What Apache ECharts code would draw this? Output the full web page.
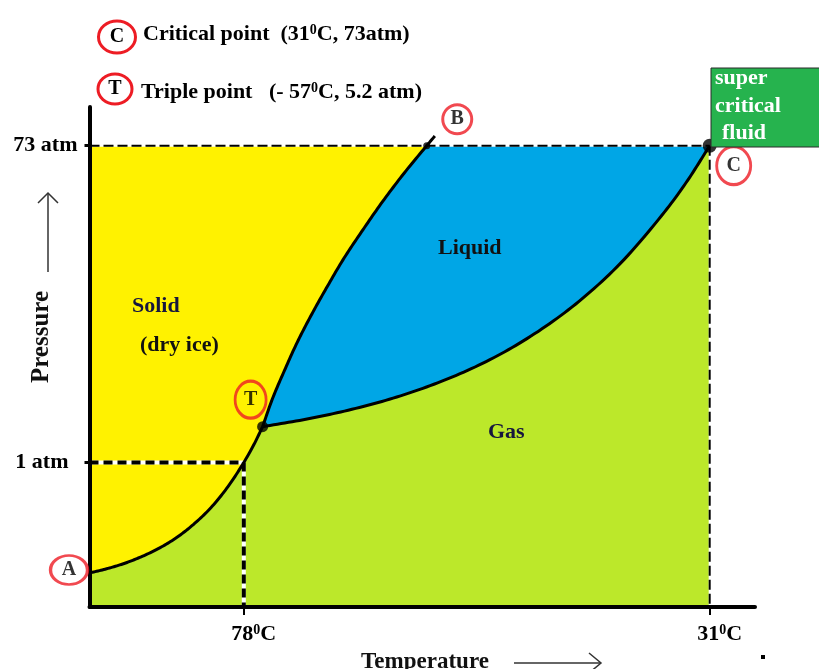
<!DOCTYPE html>
<html><head><meta charset="utf-8">
<script src="https://cdn.jsdelivr.net/npm/echarts@6/dist/echarts.min.js"></script>
<style>html,body{margin:0;padding:0;background:#fff}#c{width:819px;height:669px}</style>
</head><body><div id="c"></div>
<script>
// ---- data (schematic CO2 phase diagram; temperature in °C, pressure in atm on a log axis) ----
const xRange = [-114.1, 41.6];
const yRange = [0.1413, 123.3];
const tempTicks = [-78, 31];
const tempTickLabels = ['78', '31'];
const pressureTicks = [1, 73];
const pressureTickLabels = ['1 atm', '73 atm'];

const sublimationT = [-114.1, -110.1, -106.0, -102.0, -97.9, -93.8, -89.8, -85.7, -81.7, -78.0, -75.6, -73.6];
const sublimationP = [0.2239, 0.2370, 0.2547, 0.2789, 0.3124, 0.3607, 0.4318, 0.5422, 0.7215, 1.0, 1.2795, 1.625];

const meltingT = [-73.6, -71.3, -68.5, -65.5, -62.1, -58.4, -54.5, -50.1, -45.5, -40.5, -35.2];
const meltingP = [1.625, 2.37, 3.47, 5.09, 7.45, 10.92, 15.99, 23.43, 34.33, 50.29, 73];
const meltingTailT = [-33.3];
const meltingTailP = [83.2];

const vaporT = [-73.6, -63.2, -52.7, -42.2, -31.8, -21.3, -10.9, -0.4, 10.1, 20.5, 25.8, 31];
const vaporP = [1.625, 1.802, 2.055, 2.428, 2.999, 3.922, 5.524, 8.532, 14.83, 29.90, 45.50, 73];

const triplePoint = [-73.6, 1.625];
const criticalPoint = [31, 73];
const meltEndPoint = [-35.2, 73];
const sublimationStart = [-114.1, 0.2239];

const oneAtmT = -78;
const oneAtmP = 1;

// ---- styles ----
const FONT = '"Liberation Serif","Times New Roman",serif';
const regionColors = ['#BCE82A', '#FFF200', '#00A6E6'];
const RED = '#ED1C24';
const SEG = 12;

const zip = (a, b) => a.map((v, i) => [v, b[i]]);
const subl = zip(sublimationT, sublimationP);
const melt = zip(meltingT, meltingP);
const meltFull = melt.concat(zip(meltingTailT, meltingTailP));
const vap = zip(vaporT, vaporP);

// centripetal Catmull-Rom rendering of a pixel polyline (drawing only)
function crPoint(p0, p1, p2, p3, u) {
  const d = (a, b) => Math.max(Math.pow(Math.hypot(b[0] - a[0], b[1] - a[1]), 0.5), 1e-6);
  const t0 = 0, t1 = t0 + d(p0, p1), t2 = t1 + d(p1, p2), t3 = t2 + d(p2, p3);
  const t = t1 + (t2 - t1) * u;
  const lerp = (a, b, ta, tb) => [
    ((tb - t) * a[0] + (t - ta) * b[0]) / (tb - ta),
    ((tb - t) * a[1] + (t - ta) * b[1]) / (tb - ta)];
  const A1 = lerp(p0, p1, t0, t1), A2 = lerp(p1, p2, t1, t2), A3 = lerp(p2, p3, t2, t3);
  const B1 = lerp(A1, A2, t0, t2), B2 = lerp(A2, A3, t1, t3);
  return lerp(B1, B2, t1, t2);
}
function smoothPx(pts) {
  const out = [];
  const n = pts.length;
  for (let i = 0; i < n - 1; i++) {
    const p1 = pts[i], p2 = pts[i + 1];
    const p0 = i > 0 ? pts[i - 1] : [2 * p1[0] - p2[0], 2 * p1[1] - p2[1]];
    const p3 = i + 2 < n ? pts[i + 2] : [2 * p2[0] - p1[0], 2 * p2[1] - p1[1]];
    for (let j = 0; j < SEG; j++) out.push(j === 0 ? p1.slice() : crPoint(p0, p1, p2, p3, j / SEG));
  }
  out.push(pts[n - 1].slice());
  return out;
}
function curvesPx(api) {
  const c = p => api.coord(p);
  const S = smoothPx(subl.map(c));
  const Mfull = smoothPx(meltFull.map(c));
  const M = Mfull.slice(0, (melt.length - 1) * SEG + 1);
  const V = smoothPx(vap.map(c));
  return {S, Mfull, M, V, c};
}

const chart = echarts.init(document.getElementById('c'), null, {renderer: 'canvas'});

function dashed(data, width, dash) {
  return [
    {type: 'line', data: data, symbol: 'none', silent: true, z: 5, clip: false,
     lineStyle: {color: '#fff', width: width}},
    {type: 'line', data: data, symbol: 'none', silent: true, z: 6, clip: false,
     lineStyle: {color: '#000', width: width, type: dash}}
  ];
}

const supRich = {
  n: {fontFamily: FONT, fontWeight: 'bold', fontSize: 22, color: '#000'},
  s: {fontFamily: FONT, fontWeight: 'bold', fontSize: 14, color: '#000', verticalAlign: 'top'}
};

const option = {
  animation: false,
  backgroundColor: '#fff',
  grid: {left: 89.5, top: 107, right: 64, bottom: 62, containLabel: false, outerBoundsMode: 'none'},
  xAxis: {
    type: 'value', min: xRange[0], max: xRange[1], z: 10,
    axisLine: {show: true, onZero: false, lineStyle: {color: '#000', width: 4}},
    axisTick: {show: true, customValues: tempTicks, length: 8, lineStyle: {color: '#000', width: 2}},
    axisLabel: {
      show: true, customValues: tempTicks, margin: 16, padding: [0, 0, 0, 20],
      formatter: function (v) {
        const i = tempTicks.findIndex(t => Math.abs(t - v) < 0.5);
        return '{n|' + tempTickLabels[i] + '}{s|0}{n|C}';
      },
      rich: supRich
    },
    splitLine: {show: false}
  },
  yAxis: {
    type: 'log', min: yRange[0], max: yRange[1], z: 10,
    axisLine: {show: true, onZero: false, lineStyle: {color: '#000', width: 4}},
    axisTick: {show: true, customValues: pressureTicks, length: 5, lineStyle: {color: '#000', width: 3}},
    axisLabel: {
      show: true, customValues: pressureTicks, margin: 12,
      formatter: function (v) {
        const i = pressureTicks.findIndex(t => Math.abs(Math.log(t) - Math.log(v)) < 0.1);
        return i === 0 ? '{m|' + pressureTickLabels[i] + '}' : '{n|' + pressureTickLabels[i] + '}';
      },
      rich: {
        n: {fontFamily: FONT, fontWeight: 'bold', fontSize: 22, color: '#000'},
        m: {fontFamily: FONT, fontWeight: 'bold', fontSize: 22, color: '#000', padding: [0, 9, 0, 0]}
      }
    },
    splitLine: {show: false}
  },
  series: [
    { // phase regions
      type: 'custom', coordinateSystem: 'cartesian2d', silent: true, z: 1, clip: false,
      encode: {x: 0, y: 1},
      data: [[-100, 0.3, 0], [-100, 10, 1], [-50, 10, 2]],
      renderItem: function (params, api) {
        const id = api.value(2);
        const {S, M, V, c} = curvesPx(api);
        let pts;
        if (id === 0) {
          pts = [c([xRange[0], yRange[0]])].concat(S, V.slice(1), [c([criticalPoint[0], yRange[0]])]);
        } else if (id === 1) {
          pts = S.concat(M.slice(1), [c([xRange[0], meltEndPoint[1]])]);
        } else {
          pts = M.concat(V.slice().reverse().slice(0, -1));
        }
        return {type: 'polygon', shape: {points: pts}, style: {fill: regionColors[id]}};
      }
    },
    ...dashed([[xRange[0], criticalPoint[1]], criticalPoint], 2, [10, 4]),
    ...dashed([criticalPoint, [criticalPoint[0], yRange[0]]], 2, [10, 4]),
    ...dashed([[xRange[0], oneAtmP], [oneAtmT, oneAtmP]], 4, [9, 5]),
    ...dashed([[oneAtmT, oneAtmP], [oneAtmT, yRange[0]]], 4, [9, 5]),
    { // phase boundary curves
      type: 'custom', coordinateSystem: 'cartesian2d', silent: true, z: 8, clip: false,
      encode: {x: 0, y: 1},
      data: [[-100, 0.3, 0], [-60, 10, 1], [0, 5, 2]],
      renderItem: function (params, api) {
        const id = api.value(2);
        const {S, Mfull, V} = curvesPx(api);
        const pts = [S, Mfull, V][id];
        return {type: 'polyline', shape: {points: pts},
          style: {stroke: '#000', lineWidth: 3, fill: null, lineJoin: 'round'}};
      }
    },
    {
      type: 'scatter', silent: true, z: 9, clip: false,
      itemStyle: {color: '#000'},
      data: [
        {value: triplePoint, symbolSize: 11},
        {value: criticalPoint, symbolSize: 14},
        {value: meltEndPoint, symbolSize: 7}
      ]
    },
    {
      type: 'scatter', silent: true, z: 12, clip: false,
      itemStyle: {color: 'rgba(0,0,0,0)', borderColor: RED, borderWidth: 3},
      label: {show: true, position: 'inside', formatter: p => p.name,
        fontFamily: FONT, fontWeight: 'bold', fontSize: 20, color: '#000'},
      data: [
        {name: 'A', value: sublimationStart, symbolSize: [37, 29], symbolOffset: [-20.5, -3]},
        {name: 'T', value: triplePoint, symbolSize: [31, 37], symbolOffset: [-12, -27]},
        {name: 'B', value: meltEndPoint, symbolSize: [29, 29], symbolOffset: [30.5, -26.5]},
        {name: 'C', value: criticalPoint, symbolSize: [34, 38], symbolOffset: [24, 20]}
      ]
    }
  ],
  graphic: [
    // header annotations
    {type: 'ellipse', z: 100, shape: {cx: 117, cy: 37, rx: 18.5, ry: 16},
     style: {fill: 'none', stroke: RED, lineWidth: 3}},
    {type: 'text', z: 101, style: {x: 117, y: 37, text: 'C', align: 'center', verticalAlign: 'middle',
     font: 'bold 20px ' + FONT, fill: '#000'}},
    {type: 'text', z: 101, style: {x: 143, y: 34, verticalAlign: 'middle',
     text: '{t|Critical point  (31}{s|0}{t|C, 73atm)}',
     rich: {t: {fontFamily: FONT, fontWeight: 'bold', fontSize: 22, fill: '#000'},
            s: {fontFamily: FONT, fontWeight: 'bold', fontSize: 14, fill: '#000', verticalAlign: 'top'}}}},
    {type: 'ellipse', z: 100, shape: {cx: 115, cy: 89, rx: 17, ry: 15},
     style: {fill: 'none', stroke: RED, lineWidth: 3}},
    {type: 'text', z: 101, style: {x: 115, y: 89, text: 'T', align: 'center', verticalAlign: 'middle',
     font: 'bold 20px ' + FONT, fill: '#000'}},
    {type: 'text', z: 101, style: {x: 141, y: 92, verticalAlign: 'middle',
     text: '{t|Triple point   (- 57}{s|0}{t|C, 5.2 atm)}',
     rich: {t: {fontFamily: FONT, fontWeight: 'bold', fontSize: 22, fill: '#000'},
            s: {fontFamily: FONT, fontWeight: 'bold', fontSize: 14, fill: '#000', verticalAlign: 'top'}}}},
    // region labels
    {type: 'text', z: 101, style: {x: 132, y: 306, text: 'Solid', verticalAlign: 'middle',
     font: 'bold 22px ' + FONT, fill: '#16163e'}},
    {type: 'text', z: 101, style: {x: 140, y: 345, text: '(dry ice)', verticalAlign: 'middle',
     font: 'bold 22px ' + FONT, fill: '#111'}},
    {type: 'text', z: 101, style: {x: 438, y: 248, text: 'Liquid', verticalAlign: 'middle',
     font: 'bold 22px ' + FONT, fill: '#111'}},
    {type: 'text', z: 101, style: {x: 488, y: 432, text: 'Gas', verticalAlign: 'middle',
     font: 'bold 22px ' + FONT, fill: '#16163e'}},
    // super critical fluid box
    {type: 'rect', z: 100, shape: {x: 711, y: 68, width: 112, height: 79},
     style: {fill: '#26B34E', stroke: '#2a2a2a', lineWidth: 1}},
    {type: 'text', z: 101, style: {x: 715, y: 78, text: 'super', verticalAlign: 'middle',
     font: 'bold 22px ' + FONT, fill: '#fff'}},
    {type: 'text', z: 101, style: {x: 715, y: 106, text: 'critical', verticalAlign: 'middle',
     font: 'bold 22px ' + FONT, fill: '#fff'}},
    {type: 'text', z: 101, style: {x: 722, y: 133, text: 'fluid', verticalAlign: 'middle',
     font: 'bold 22px ' + FONT, fill: '#fff'}},
    // axis names with arrows
    {type: 'text', z: 101, style: {x: 425, y: 662, text: 'Temperature', align: 'center', verticalAlign: 'middle',
     font: 'bold 23px ' + FONT, fill: '#111'}},
    {type: 'line', z: 100, shape: {x1: 514, y1: 663, x2: 601, y2: 663}, style: {stroke: '#333', lineWidth: 1.5}},
    {type: 'polyline', z: 100, shape: {points: [[589, 653], [601, 663], [589, 673]]},
     style: {stroke: '#333', lineWidth: 1.5, fill: 'none'}},
    {type: 'rect', z: 100, shape: {x: 761, y: 655, width: 4, height: 4}, style: {fill: '#000'}},
    {type: 'text', z: 101, x: 42, y: 337, rotation: Math.PI / 2,
     style: {x: 0, y: 0, text: 'Pressure', align: 'center', verticalAlign: 'middle',
     font: 'bold 25px ' + FONT, fill: '#111'}},
    {type: 'line', z: 100, shape: {x1: 48, y1: 272, x2: 48, y2: 193}, style: {stroke: '#333', lineWidth: 1.5}},
    {type: 'polyline', z: 100, shape: {points: [[38, 203], [48, 193], [58, 203]]},
     style: {stroke: '#333', lineWidth: 1.5, fill: 'none'}}
  ]
};
chart.setOption(option);
</script>
</body></html>
